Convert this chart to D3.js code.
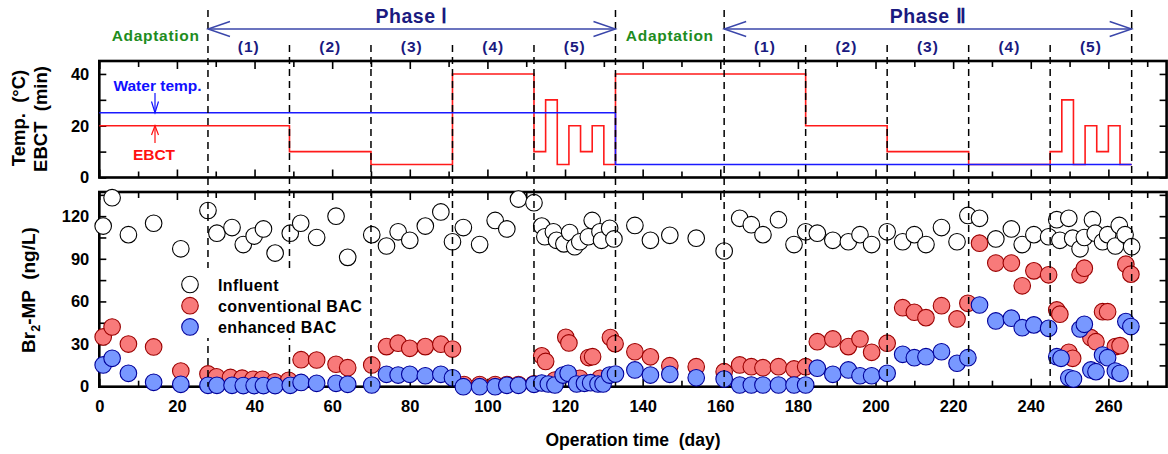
<!DOCTYPE html>
<html>
<head>
<meta charset="utf-8">
<script src="https://cdn.jsdelivr.net/npm/d3@7"></script>
<style>
  body { margin: 0; background: #fff; }
  text { font-family: Arial, "Liberation Sans", sans-serif; font-weight: bold; }
</style>
</head>
<body>
<script>

// operation days where each phase / sub-phase starts or ends
var phaseBounds = [28, 49, 70, 91, 112, 133, 161, 182, 203, 224, 245, 266];
var mainBounds = [28, 133, 161, 266];
var subLabels = ["(1)", "(2)", "(3)", "(4)", "(5)"];
var phaseNames = ["Phase \u2160", "Phase \u2161"];

// EBCT (min) and water temp (C) as steps [day, value]
var ebct = [[0,20],[49,10],[70,5],[91,40],[112,10],[115,30],[118,5],[121,20],[124,10],[127,20],[130,5],
  [133,40],[182,20],[203,10],[224,5],[245,10],[248,30],[251,5],[254,20],[257,10],[260,20],[263,5],[266,5]];
var waterTemp = [[0,25],[133,5],[266,5]];

// Br2-MP (ng/L) [day, value]
var influent = [[1,113],[3.3,133],[7.5,107],[14,115],[21,97],[28,124],[30.3,108],[34.2,112],[37.1,100],[39.9,106],
  [42.3,111],[45.3,94],[49.2,108],[51.9,115],[56,105],[61,120],[64,91],[70.2,107],[74,99],[77,109],[80,103],
  [84,113],[88,123],[91,102],[93.8,112],[98,100],[102,117],[105,111],[108,132],[112,129.5],[114,113],[114.8,105.5],
  [117,109],[117.8,103],[119.7,100.5],[121.2,108.5],[122.5,98.5],[123.8,102],[126,105.5],[127,117],[129,109],
  [129.4,103],[131.5,111.5],[132.6,104],[138,113.5],[142,103],[147,106.5],[153.8,104.5],[161,95.5],[165,118.5],
  [168,114],[171,107],[175,117.5],[179,100],[182,109],[185,108],[189,103],[193,102],[196,107],[199,100],[203,109],
  [207,102],[210,107],[213,100],[217,112],[221,102],[223.8,120.5],[226.8,118.5],[231,104],[235,111],[237.8,100],
  [240.8,107],[244.6,105.5],[246.7,117.5],[247.5,103],[249.8,118.5],[250.8,104.5],[252.7,97],[253.8,105],
  [255.9,117.5],[256.6,108],[258.5,102],[259.8,107],[261.8,99],[262.8,113.5],[264.3,107],[266,98.5]];

var conventional = [[1,35],[3.3,42],[7.5,30],[14,28],[21,11],[28,9],[30.2,7],[33.8,6.5],[36.8,6],[39.6,5.2],
  [42,5.2],[45.2,3.5],[48.8,4.5],[52,19],[56,18.8],[61,15.8],[64,13.4],[70.2,15.3],[74,28.2],[77,30.6],[80,27],
  [84,28.2],[88,29.9],[91,26.5],[94,1.5],[98,1.5],[102,1.5],[105,1.5],[108,1.5],[112,2],[114,21.7],[115,17.8],
  [117.4,4.7],[120.2,34.8],[121,30.8],[123.8,5.9],[126.1,20.5],[127.1,21.1],[129,5.9],[131.7,34.6],[132.9,30.3],
  [138,24.6],[142,21],[147,14.8],[153.8,14.1],[161,10.6],[165,15.3],[168,14.1],[171,13.4],[175,14.1],[179,12.5],
  [182,14.1],[185,31.7],[189,33.6],[193,28.2],[196,33.6],[199,24.2],[203,30.6],[207,55.6],[210,52.4],[213,48.6],
  [217,57],[221,47.7],[223.8,58.7],[226.8,101],[231,87],[235,87],[237.8,71],[240.8,81.5],[244.6,78.7],[246.7,54],
  [247.5,51],[249.8,24.2],[250.8,20],[252.7,78.7],[253.8,83.4],[255.5,34.5],[256.8,31.7],[258.5,52.8],[259.8,52.8],
  [261.8,28.2],[263,28.9],[264.5,86.2],[265.8,79.2]];

var enhanced = [[1,15.3],[3.3,20],[7.5,9.4],[14,3.1],[21,1.7],[28,1],[30.3,1],[34.2,1],[37.1,0.8],[39.9,0.8],
  [42.3,0.8],[45.3,0.8],[49.2,1],[52,3],[56,2.4],[61,2.4],[64,1.7],[70.2,1.2],[74,8.7],[77,8.2],[80,8.7],[84,7.7],
  [88,8.7],[91,6.3],[93.8,0],[98,0],[102,0],[105,1],[108,1],[112,1.7],[114,2.6],[115.7,1.9],[117.4,1.2],[119.5,8.2],
  [120.8,9.4],[123,1.9],[125,2.4],[126.6,2.8],[128.5,1.9],[129.8,1.9],[131.5,8.2],[133,8.9],[138,11.8],[142,8.2],
  [147,8.7],[153.8,6.3],[161,5.4],[165,1.2],[168,1.2],[171,1.2],[175,1.2],[179,1.2],[182,1.2],[185,13],[189,8.7],
  [193,11.8],[196,7.7],[199,7.7],[203,9.4],[207,22.8],[210,20.4],[213,21.1],[217,24.6],[221,16.5],[223.8,20.4],
  [226.8,57.5],[231,46.3],[235,48.2],[237.8,41.5],[240.8,43.5],[244.6,41.1],[246.7,21.1],[247.8,20],[249.8,6.3],
  [251,5.4],[252.7,40.6],[253.8,43.9],[255.5,11.8],[256.8,10.6],[258.5,22.3],[259.8,20.4],[261.8,11],[263,9.4],
  [264.5,45.8],[265.8,42.3]];

var legendNames = ["Influent", "conventional BAC", "enhanced BAC"];

var w = 1168, h = 454;
var navy = "#1a1a80", green = "#1e8c1e";

var svg = d3.select("body").append("svg")
  .attr("width", w)
  .attr("height", h);

var x = d3.scaleLinear().domain([0, 275]).range([99.3, 1166.6]);
var yTop = d3.scaleLinear().domain([0, 45]).range([177.5, 61]);
var yBot = d3.scaleLinear().domain([0, 137]).range([386.7, 192]);

var xMajor = d3.range(0, 276, 20);
var xMinor = d3.range(10, 276, 20);

function drawFrame(y, yMajor, yMinor, showXLabels) {
  var y0 = y.range()[0], y1 = y.range()[1];
  var x0 = x.range()[0], x1 = x.range()[1];
  // bottom / top x ticks (inward)
  svg.append("g").attr("transform", "translate(0," + y0 + ")")
    .call(d3.axisBottom(x).tickValues(xMajor).tickSize(-8).tickPadding(13.5)
      .tickFormat(showXLabels ? d3.format("d") : ""));
  svg.append("g").attr("transform", "translate(0," + y0 + ")")
    .call(d3.axisBottom(x).tickValues(xMinor).tickSize(-6).tickFormat(""));
  svg.append("g").attr("transform", "translate(0," + y1 + ")")
    .call(d3.axisTop(x).tickValues(xMajor).tickSize(-8).tickFormat(""));
  svg.append("g").attr("transform", "translate(0," + y1 + ")")
    .call(d3.axisTop(x).tickValues(xMinor).tickSize(-6).tickFormat(""));
  // left / right y ticks
  svg.append("g").attr("transform", "translate(" + x0 + ",0)")
    .call(d3.axisLeft(y).tickValues(yMajor).tickSize(-7).tickPadding(10).tickFormat(d3.format("d")));
  svg.append("g").attr("transform", "translate(" + x0 + ",0)")
    .call(d3.axisLeft(y).tickValues(yMinor).tickSize(-7).tickFormat(""));
  svg.append("g").attr("transform", "translate(" + x1 + ",0)")
    .call(d3.axisRight(y).tickValues(yMajor.concat(yMinor)).tickSize(-7).tickFormat(""));

  svg.append("rect")
    .attr("x", x0).attr("y", y1)
    .attr("width", x1 - x0).attr("height", y0 - y1)
    .attr("fill", "none").attr("stroke", "#000").attr("stroke-width", 2.6);
}

drawFrame(yTop, [0, 20, 40], [10, 30], false);
drawFrame(yBot, d3.range(0, 136, 30), d3.range(15, 136, 30), true);

svg.selectAll(".domain").remove();
svg.selectAll(".tick line").attr("stroke", "#000").attr("stroke-width", 1.6);
svg.selectAll(".tick text").attr("font-size", "16.5px").attr("fill", "#000")
  .attr("font-family", "Arial, 'Liberation Sans', sans-serif").attr("font-weight", "bold");

// EBCT and water temp steps
var stepLine = function(y) {
  return d3.line().x(function(d) { return x(d[0]); }).y(function(d) { return y(d[1]); })
    .curve(d3.curveStepAfter);
};
svg.append("path").datum(ebct).attr("d", stepLine(yTop))
  .attr("fill", "none").attr("stroke", "#ff1a1a").attr("stroke-width", 1.6);
svg.append("path").datum(waterTemp).attr("d", stepLine(yTop))
  .attr("fill", "none").attr("stroke", "#1a1aff").attr("stroke-width", 1.6);

// scatter
var series = [
  { data: influent, fill: "#ffffff", stroke: "#000000" },
  { data: conventional, fill: "#f87a7a", stroke: "#9a0000" },
  { data: enhanced, fill: "#7898ff", stroke: "#00009a" }
];
series.forEach(function(s) {
  svg.append("g").selectAll("circle")
    .data(s.data)
    .enter().append("circle")
    .attr("cx", function(d) { return x(d[0]); })
    .attr("cy", function(d) { return yBot(d[1]); })
    .attr("r", 8.3)
    .attr("fill", s.fill)
    .attr("stroke", s.stroke)
    .attr("stroke-width", 1.1);
});

// dashed phase boundaries
svg.selectAll("line.bound")
  .data(phaseBounds)
  .enter().append("line")
  .attr("class", "bound")
  .attr("x1", function(d) { return x(d); })
  .attr("x2", function(d) { return x(d); })
  .attr("y1", function(d) { return mainBounds.indexOf(d) >= 0 ? 10 : 45; })
  .attr("y2", yBot(0))
  .attr("stroke", "#000")
  .attr("stroke-width", 1.5)
  .attr("stroke-dasharray", "7,5");

// legend (white box hides the dashed lines)
svg.append("rect").attr("x", 168).attr("y", 268).attr("width", 194).attr("height", 70).attr("fill", "#fff");
var lg = svg.append("g").selectAll("g")
  .data(legendNames)
  .enter().append("g")
  .attr("transform", function(d, i) { return "translate(190," + (284.5 + i * 21.2) + ")"; });
lg.append("circle").attr("r", 8.3)
  .attr("fill", function(d, i) { return series[i].fill; })
  .attr("stroke", function(d, i) { return series[i].stroke; })
  .attr("stroke-width", 1.1);
lg.append("text").attr("x", 28).attr("y", 6).attr("font-size", "16px")
  .attr("letter-spacing", "0.4px").text(function(d) { return d; });

// header: phase arrows and labels
var arrowColor = "#3a46aa";
[[28, 133], [161, 266]].forEach(function(p, i) {
  var a = x(p[0]), b = x(p[1]), ya = 29;
  svg.append("line").attr("x1", a).attr("x2", b).attr("y1", ya).attr("y2", ya)
    .attr("stroke", arrowColor).attr("stroke-width", 1.4);
  svg.append("path").attr("d", "M" + (a + 22) + "," + (ya - 7.5) + "L" + a + "," + ya + "L" + (a + 22) + "," + (ya + 7.5))
    .attr("fill", "none").attr("stroke", arrowColor).attr("stroke-width", 1.4);
  svg.append("path").attr("d", "M" + (b - 22) + "," + (ya - 7.5) + "L" + b + "," + ya + "L" + (b - 22) + "," + (ya + 7.5))
    .attr("fill", "none").attr("stroke", arrowColor).attr("stroke-width", 1.4);
  svg.append("text").attr("x", (a + b) / 2).attr("y", 23).attr("text-anchor", "middle")
    .attr("font-size", "19.5px").attr("fill", navy).attr("letter-spacing", "0.5px").text(phaseNames[i]);
  // sub-phase labels
  for (var k = 0; k < 5; k++) {
    var d0 = p[0] + k * 21;
    svg.append("text").attr("x", x(d0 + 10.5)).attr("y", 52).attr("text-anchor", "middle")
      .attr("font-size", "15.5px").attr("fill", navy).attr("letter-spacing", "1px").text(subLabels[k]);
  }
});
[[0, 28], [133, 161]].forEach(function(p) {
  svg.append("text").attr("x", x(p[0]) + (x(p[1]) - x(p[0])) / 2 + (p[0] === 0 ? 2 : 0)).attr("y", 41)
    .attr("text-anchor", "middle").attr("font-size", "15.5px").attr("letter-spacing", "0.7px")
    .attr("fill", green).text("Adaptation");
});

// annotations in the top panel
svg.append("text").attr("x", 157.5).attr("y", 91).attr("text-anchor", "middle")
  .attr("font-size", "15.5px").attr("fill", "#1010ff").text("Water temp.");
svg.append("line").attr("x1", 155).attr("x2", 155).attr("y1", 93).attr("y2", yTop(25))
  .attr("stroke", "#1010ff").attr("stroke-width", 1.2);
svg.append("path").attr("d", "M151.5,101.5L155," + yTop(25) + "L158.5,101.5")
  .attr("fill", "none").attr("stroke", "#1010ff").attr("stroke-width", 1.2);
svg.append("text").attr("x", 154).attr("y", 159.5).attr("text-anchor", "middle")
  .attr("font-size", "15.5px").attr("fill", "#ff1010").text("EBCT");
svg.append("line").attr("x1", 155).attr("x2", 155).attr("y1", 143).attr("y2", yTop(20))
  .attr("stroke", "#ff1010").attr("stroke-width", 1.2);
svg.append("path").attr("d", "M151.5,135L155," + yTop(20) + "L158.5,135")
  .attr("fill", "none").attr("stroke", "#ff1010").attr("stroke-width", 1.2);

// axis titles
svg.append("text").attr("transform", "translate(25,118) rotate(-90)").attr("text-anchor", "middle")
  .attr("font-size", "18.5px").attr("xml:space", "preserve").text("Temp.  (\u00b0C)");
svg.append("text").attr("transform", "translate(47,119) rotate(-90)").attr("text-anchor", "middle")
  .attr("font-size", "18.5px").attr("xml:space", "preserve").text("EBCT  (min)");

var yt = svg.append("text").attr("transform", "translate(35,290) rotate(-90)").attr("text-anchor", "middle")
  .attr("font-size", "19px").attr("xml:space", "preserve");
yt.append("tspan").text("Br");
yt.append("tspan").attr("font-size", "12.5px").attr("dy", 5).text("2");
yt.append("tspan").attr("dy", -5).text("-MP  (ng/L)");

svg.append("text").attr("x", 633).attr("y", 446).attr("text-anchor", "middle")
  .attr("font-size", "17.5px").attr("xml:space", "preserve").text("Operation time  (day)");

</script>
</body>
</html>
